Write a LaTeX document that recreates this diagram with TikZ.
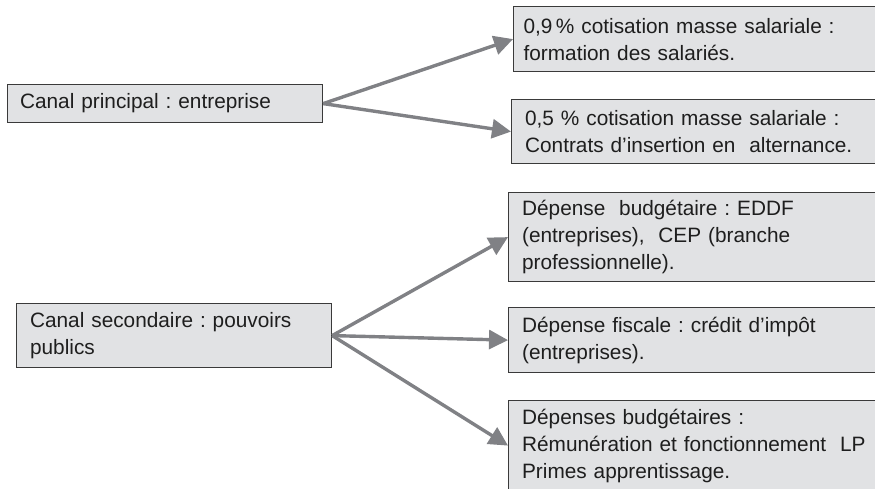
\documentclass[tikz,border=0pt]{standalone}
\usepackage{fontspec}
\setmainfont{Liberation Sans}
\usetikzlibrary{arrows.meta}
\definecolor{boxfill}{HTML}{E1E2E4}
\definecolor{boxline}{HTML}{3A3A3A}
\definecolor{arrowgray}{HTML}{808185}
\definecolor{ink}{HTML}{1E1E1E}
\tikzset{
  box/.style n args={3}{draw=boxline, line width=1.2pt, fill=boxfill, text=ink,
    font=\fontsize{20.8}{27}\selectfont\frenchspacing, align=left, anchor=north west,
    inner ysep=0pt, inner xsep=#3, text width=#1-2*#3, minimum height=#2},
  flow/.style={draw=arrowgray, line width=3.4pt,
    -{Triangle[length=19pt,width=19pt]}, shorten <=0pt}
}
\begin{document}
\begin{tikzpicture}[x=1pt,y=-1pt]
  \useasboundingbox (0,0) rectangle (875,489);
  \clip (0,0) rectangle (875,489);

  % funding channels
  \node[box={315}{38}{12.5pt}] (princ) at (7,84) {Canal principal : entreprise};
  \node[box={315}{64}{13.5pt}] (second) at (16,303) {Canal secondaire : pouvoirs\\publics};

  % employer contributions
  \node[box={387}{65}{10pt}] (form) at (513,6)
    {0,9\,\% cotisation masse salariale :\\formation des salariés.};
  \node[box={389}{64}{13.5pt}] (alt) at (511,99)
    {0,5 \% cotisation masse salariale :\\Contrats d’insertion en\ \ alternance.};

  % public spending
  \node[box={392}{89}{13.5pt}] (budg) at (508,192)
    {Dépense\ \ budgétaire : EDDF\\(entreprises),\ \ CEP (branche\\professionnelle).};
  \node[box={392}{65}{13.5pt}] (fisc) at (508,307)
    {Dépense fiscale : crédit d’impôt\\(entreprises).};
  \node[box={392}{90}{13.5pt}] (lp) at (508,400)
    {Dépenses budgétaires :\\Rémunération et fonctionnement\ \ LP\\Primes apprentissage.};

  \draw[flow] (princ.east) -- (form.west);
  \draw[flow] (princ.east) -- (alt.west);
  \draw[flow] (second.east) -- (budg.west);
  \draw[flow] (second.east) -- (fisc.west);
  \draw[flow] (second.east) -- (lp.west);
\end{tikzpicture}
\end{document}
